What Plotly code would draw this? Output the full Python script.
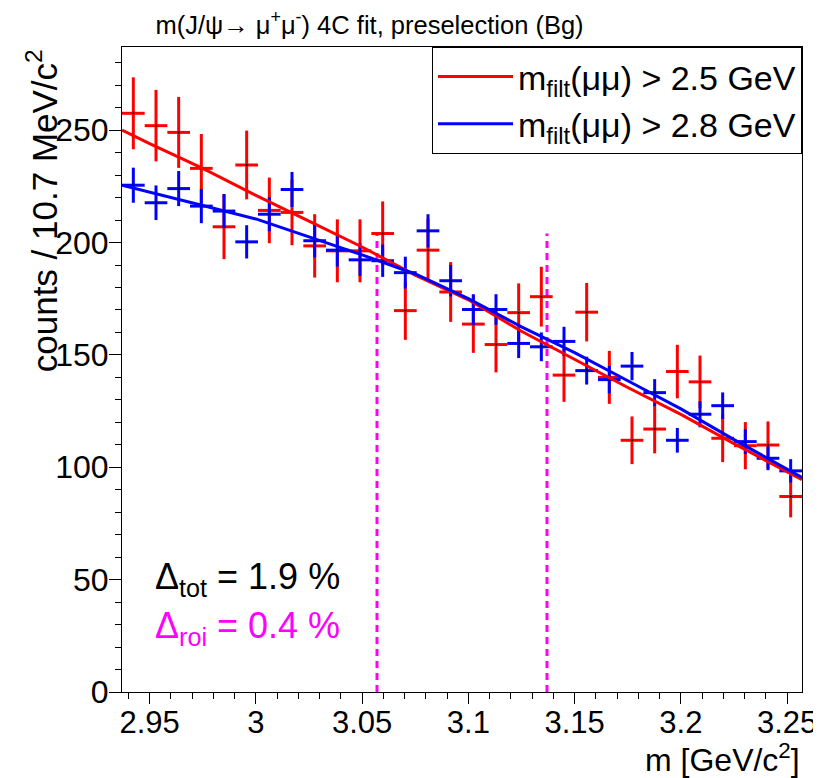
"""m(J/psi -> mu mu) 4C fit, preselection background comparison."""
import numpy as np
import plotly.graph_objects as go

# histogram binning: 30 bins around the J/psi mass
m_lo, m_hi, n_bins = 2.937, 3.257, 30
edges = np.linspace(m_lo, m_hi, n_bins + 1)
centers = 0.5 * (edges[:-1] + edges[1:])
half_width = 0.5 * (edges[1] - edges[0])

# m_filt(mumu) > 2.5 GeV
counts_25 = [257.5, 252, 249, 233, 207, 234.5, 214.3, 213.4, 198.5, 196.3,
             196.3, 204, 169.7, 196.6, 178, 163.7, 154.6, 168.8, 175.9, 141,
             169, 140, 112, 117, 142.6, 138, 112.9, 109.6, 109.9, 87]
errors_25 = [16.0, 15.9, 15.8, 15.3, 14.4, 15.3, 14.6, 14.6, 14.1, 14.0,
             14.0, 14.3, 13.0, 14.0, 13.3, 12.8, 12.4, 13.0, 13.3, 11.9,
             13.0, 11.8, 10.6, 10.8, 11.9, 11.7, 10.6, 10.5, 10.5, 9.3]

# m_filt(mumu) > 2.8 GeV
counts_28 = [225.5, 217.7, 224, 216.2, 214, 200.3, 212.6, 223.6, 200.8, 196.6,
             192.3, 191.9, 186.6, 205.2, 183, 170.2, 170.2, 155.1, 153.6, 156,
             143, 139, 145, 133.2, 112, 123.6, 127.4, 111.4, 104, 98.4]
errors_28 = [7.8, 7.7, 7.8, 7.6, 7.6, 7.4, 7.6, 7.8, 7.4, 7.3,
             7.2, 7.2, 7.1, 7.4, 7.0, 6.8, 6.8, 6.5, 6.4, 6.5,
             6.2, 6.1, 6.3, 6.0, 5.5, 5.8, 5.9, 5.5, 5.3, 5.2]

# fitted background shapes
fit_m = [2.937, 2.95, 2.975, 3.0, 3.025, 3.05, 3.075, 3.1, 3.125, 3.15,
         3.175, 3.2, 3.225, 3.257]
fit_25 = [250, 244, 233, 221, 209.5, 198, 185.5, 174.5, 160.5, 148,
          135.5, 123.5, 110.5, 94.5]
fit_28 = [225.5, 222.5, 216.5, 210.5, 202.5, 194.5, 186, 175, 162.5, 151,
          138.5, 126, 112.3, 95.5]

# region of interest
roi = [3.057, 3.137]
roi_top = 204

FONT = "Liberation Sans, Arial, Helvetica, sans-serif"

fig = go.Figure()

for m in roi:
    fig.add_trace(go.Scatter(
        x=[m, m], y=[0, roi_top], mode="lines", showlegend=False,
        line=dict(color="#ff00ff", width=3, dash="7px,5px"),
        hoverinfo="skip"))

for counts, errors, color in [(counts_25, errors_25, "#ff0000"),
                              (counts_28, errors_28, "#0000ff")]:
    fig.add_trace(go.Scatter(
        x=centers, y=counts, mode="markers", showlegend=False,
        marker=dict(color="black", size=2),
        error_y=dict(type="data", array=errors, color=color,
                     thickness=3, width=0),
        error_x=dict(type="constant", value=half_width, color=color,
                     thickness=3, width=0)))

fig.add_trace(go.Scatter(
    x=fit_m, y=fit_25, mode="lines", line=dict(color="#ff0000", width=3),
    name="m<sub>filt</sub>(μμ) > 2.5 GeV"))
fig.add_trace(go.Scatter(
    x=fit_m, y=fit_28, mode="lines", line=dict(color="#0000ff", width=3),
    name="m<sub>filt</sub>(μμ) > 2.8 GeV"))

axis_common = dict(
    showgrid=False, zeroline=False, showline=True, linecolor="black",
    linewidth=1, mirror=True, ticks="outside", tickwidth=1,
    tickcolor="black")

fig.update_xaxes(range=[m_lo, m_hi], tick0=2.95, dtick=0.05,
                 ticklen=11, ticklabelstandoff=-8,
                 tickfont=dict(family=FONT, size=31, color="black"),
                 minor=dict(dtick=0.01, ticklen=6, ticks="outside",
                            tickcolor="black"),
                 **axis_common)
fig.update_yaxes(range=[0, 287], tick0=0, dtick=50,
                 ticklen=12, ticklabelstandoff=-6,
                 tickfont=dict(family=FONT, size=32, color="black"),
                 minor=dict(dtick=10, ticklen=6, ticks="outside",
                            tickcolor="black"),
                 **axis_common)

# the page adds an 8px body margin, so the figure is 8px smaller than the window
fig.update_layout(
    width=813, height=770,
    margin=dict(l=114, r=19, t=39, b=86, autoexpand=False),
    paper_bgcolor="white", plot_bgcolor="white",
    font=dict(family=FONT, color="black"),
    title=dict(text="m(J/ψ→ μ<sup>+</sup>μ<sup>-</sup>) 4C fit, preselection (Bg)",
               x=0.364, xref="paper", xanchor="center",
               y=0.978, yref="container", yanchor="middle",
               font=dict(size=25.5)),
    legend=dict(x=1, y=1, xanchor="right", yanchor="top",
                bordercolor="black", borderwidth=1, bgcolor="white",
                itemwidth=75, font=dict(size=34)),
    annotations=[
        dict(text="counts / 10.7 MeV/c<sup>2</sup>", textangle=-90,
             xref="paper", yref="paper", x=-0.118, y=1,
             xanchor="center", yanchor="top", showarrow=False,
             font=dict(size=35)),
        dict(text="m [GeV/c<sup>2</sup>]", xref="paper", yref="paper",
             x=1, y=-0.102, xanchor="right", yanchor="middle",
             showarrow=False, font=dict(size=32)),
        dict(text="Δ<sub>tot</sub> = 1.9 %", xref="paper", yref="paper",
             x=0.046, y=0.175, xanchor="left", yanchor="middle",
             showarrow=False, font=dict(size=36, color="black")),
        dict(text="Δ<sub>roi</sub> = 0.4 %", xref="paper", yref="paper",
             x=0.046, y=0.1, xanchor="left", yanchor="middle",
             showarrow=False, font=dict(size=36, color="#ff00ff")),
    ],
)

fig.write_html("out.html")
